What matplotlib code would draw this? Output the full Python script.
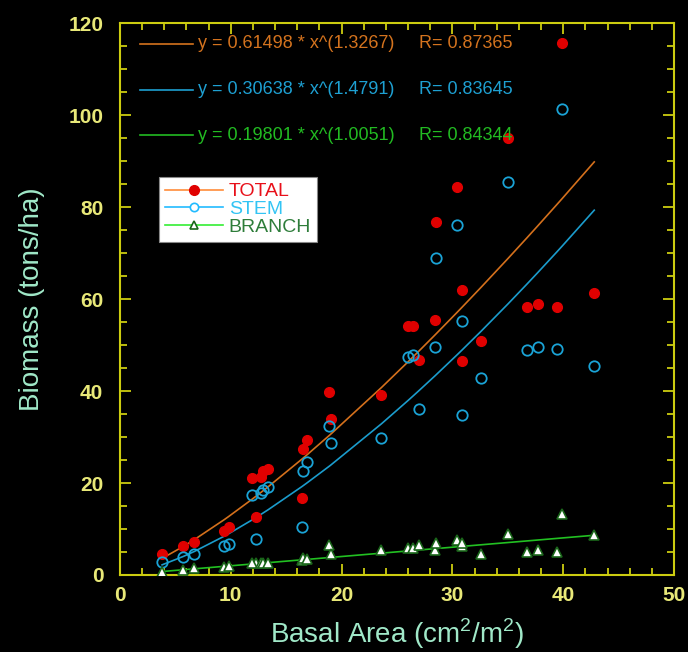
import numpy as np
import matplotlib
matplotlib.use('Agg')
import matplotlib.pyplot as plt
from matplotlib.lines import Line2D
from matplotlib.ticker import MultipleLocator

# data
basal_area = [3.8, 5.7, 6.7, 9.4, 9.8, 12.3, 11.9, 12.7, 12.9, 13.4,
              16.4, 16.5, 16.85, 18.9, 19.0, 23.6, 26.0, 26.4, 27.0, 28.4,
              28.5, 30.4, 30.9, 30.9, 32.6, 35.0, 36.7, 37.7, 39.4, 39.9, 42.8]
total = [4.6, 6.2, 7.1, 9.6, 10.4, 12.6, 21.0, 21.3, 22.7, 23.0,
         16.8, 27.4, 29.4, 39.8, 34.0, 39.1, 54.1, 54.1, 46.8, 55.5,
         76.8, 84.4, 61.9, 46.5, 50.8, 95.0, 58.2, 58.9, 58.2, 115.7, 61.2]
stem = [2.8, 3.85, 4.5, 6.3, 6.7, 7.8, 17.3, 17.9, 18.5, 19.2,
        10.5, 22.7, 24.6, 32.5, 28.7, 29.7, 47.4, 47.8, 36.1, 49.5,
        69.0, 76.0, 55.2, 34.7, 42.8, 85.4, 48.9, 49.5, 49.2, 101.2, 45.4]
branch = [0.7, 1.1, 1.5, 1.7, 1.9, 2.5, 2.5, 2.6, 2.7, 2.6,
          3.3, 3.6, 3.4, 6.5, 4.5, 5.5, 5.8, 5.8, 6.5, 5.4,
          6.9, 7.6, 6.2, 6.9, 4.5, 8.9, 5.1, 5.4, 5.1, 13.2, 8.6]

series_names = ['TOTAL', 'STEM', 'BRANCH']
fit_a = [0.61498, 0.30638, 0.19801]
fit_b = [1.3267, 1.4791, 1.0051]
fit_r = ['0.87365', '0.83645', '0.84344']

x_ticks = [0, 10, 20, 30, 40, 50]
y_ticks = [0, 20, 40, 60, 80, 100, 120]

FONT = ['Liberation Sans Narrow', 'Liberation Sans', 'DejaVu Sans']
plt.rcParams['font.family'] = FONT
plt.rcParams['mathtext.fontset'] = 'custom'
plt.rcParams['mathtext.rm'] = 'Liberation Sans'

fit_colors = ['#d4701c', '#1b9ccc', '#22c022']
text_colors = ['#d4731e', '#1ea0d2', '#22bb22']
legend_line_colors = ['#ff8c3a', '#22bbff', '#33ee33']
legend_text_colors = ['#e8101a', '#33c4f4', '#2e7d3a']
frame_color = '#cccc10'
tick_label_color = '#e8e878'
label_color = '#a0e8c8'

fig = plt.figure(figsize=(6.88, 6.52), dpi=100, facecolor='black')
ax = fig.add_axes([0.1744, 0.1181, 0.8053, 0.8466])
ax.set_facecolor('black')

xs = np.array(sorted(basal_area))
for a, b, c in zip(fit_a, fit_b, fit_colors):
    ax.plot(xs, a * xs ** b, color=c, lw=1.2, zorder=2)

ax.plot(basal_area, total, 'o', ms=7, mfc='#e00000', mec='#e00000', zorder=3)
ax.plot(basal_area, stem, 'o', ms=7.5, mfc='none', mec='#1aa3d6', mew=1.3, zorder=4)
ax.plot(basal_area, branch, '^', ms=7, mfc='white', mec='#1a661a', mew=1.2, zorder=5)

# equations at the top
eq_y = [0.962, 0.879, 0.797]
for a, b, r, c, yy in zip(fit_a, fit_b, fit_r, text_colors, eq_y):
    ax.plot([0.036, 0.132], [yy, yy], color=c, lw=1.2, transform=ax.transAxes)
    ax.text(0.141, yy, f'y = {a} * x^({b})', color=c, fontsize=13,
            va='center', ha='left', transform=ax.transAxes)
    ax.text(0.540, yy, f'R= {r}', color=c, fontsize=13,
            va='center', ha='left', transform=ax.transAxes)

# legend box
handles = [
    Line2D([], [], color=legend_line_colors[0], lw=1.2, marker='o', ms=7,
           mfc='#e00000', mec='#e00000'),
    Line2D([], [], color=legend_line_colors[1], lw=1.2, marker='o', ms=6,
           mfc='white', mec='#22bbff', mew=1.2),
    Line2D([], [], color=legend_line_colors[2], lw=1.2, marker='^', ms=6,
           mfc='white', mec='#1a661a', mew=1.2),
]
leg = ax.legend(handles, series_names, loc='upper left', bbox_to_anchor=(0.070, 0.721),
                borderaxespad=0, fancybox=False, framealpha=1, edgecolor='#888888',
                fontsize=14, handlelength=3.0, handletextpad=0.3, labelspacing=0.0,
                borderpad=0.3)
leg.get_frame().set_linewidth(0.8)
for t, c in zip(leg.get_texts(), legend_text_colors):
    t.set_color(c)

ax.set_xlim(0, 50)
ax.set_ylim(0, 120)
ax.set_xticks(x_ticks)
ax.set_yticks(y_ticks)
ax.xaxis.set_minor_locator(MultipleLocator(2))
ax.yaxis.set_minor_locator(MultipleLocator(5))
ax.tick_params(which='both', direction='in', top=True, right=True, color=frame_color, width=1.3)
ax.tick_params(which='major', length=8)
ax.tick_params(which='minor', length=5)
ax.tick_params(axis='x', which='major', pad=8)
ax.tick_params(axis='y', which='major', pad=12)
for lab in ax.get_xticklabels() + ax.get_yticklabels():
    lab.set_color(tick_label_color)
    lab.set_fontsize(15)
    lab.set_fontweight('bold')
for sp in ax.spines.values():
    sp.set_color(frame_color)
    sp.set_linewidth(1.5)

ax.set_xlabel(r'Basal Area (cm$^2$/m$^2$)', fontsize=20, color=label_color, labelpad=8)
ax.set_ylabel('Biomass (tons/ha)', fontsize=20, color=label_color, labelpad=17)

fig.savefig('out.png', dpi=100, facecolor='black')
